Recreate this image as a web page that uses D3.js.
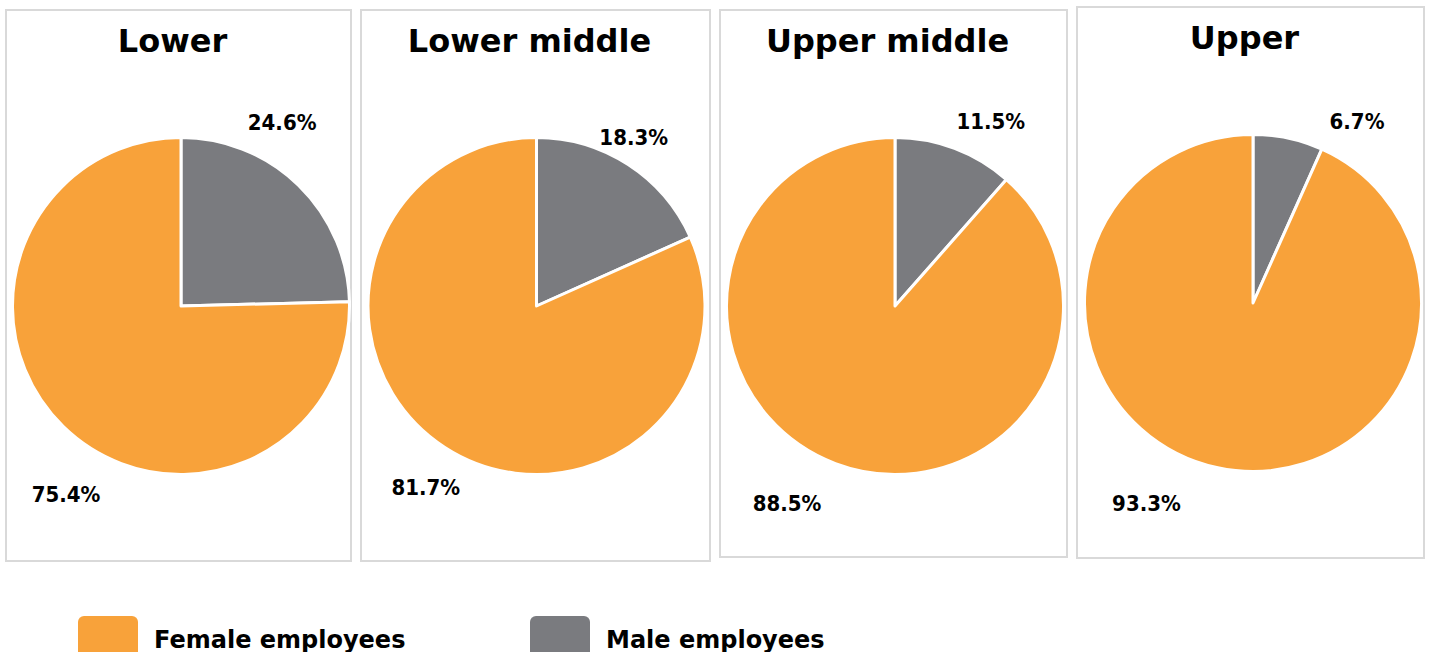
<!DOCTYPE html>
<html>
<head>
<meta charset="utf-8">
<script src="https://cdn.jsdelivr.net/npm/d3@7"></script>
<style>
  body { margin: 0; background: #fff; }
  svg { display: block; }
</style>
</head>
<body>
<div class="canvas"></div>
<script>
// data
const groups = ["Lower", "Lower middle", "Upper middle", "Upper"];
const series = ["Male employees", "Female employees"];
const maleShare = [24.6, 18.3, 11.5, 6.7];
const femaleShare = [75.4, 81.7, 88.5, 93.3];
const legendOrder = ["Female employees", "Male employees"];

const width = 1429, height = 652;

const color = d3.scaleOrdinal()
    .domain(series)
    .range(["#7a7b7f", "#f8a23a"]);

// panel frames (layout only)
const panels = [
    {x: 6, y: 10, w: 345, h: 551, cx: 181, cy: 306},
    {x: 361, y: 10, w: 349, h: 551, cx: 536.5, cy: 306},
    {x: 720, y: 10, w: 347, h: 547, cx: 895, cy: 306},
    {x: 1077, y: 7, w: 347, h: 551, cx: 1253, cy: 303}
];
const radius = 168.5;

// where Excel dropped the labels: [male, female] as angle (deg from top) / distance
const labelSpots = [
    [{ang: 28.8, dist: 210}, {ang: 211.5, dist: 220}],
    [{ang: 29.9, dist: 195}, {ang: 211.5, dist: 212}],
    [{ang: 27.4, dist: 208}, {ang: 208.7, dist: 225}],
    [{ang: 29.7, dist: 210}, {ang: 208, dist: 227}]
];

const svg = d3.select(".canvas").append("svg")
    .attr("width", width)
    .attr("height", height);

const pie = d3.pie().sort(null).value(d => d.value);
const arc = d3.arc().innerRadius(0).outerRadius(radius);

groups.forEach((name, i) => {
    const p = panels[i];
    const data = [
        {key: series[0], value: maleShare[i]},
        {key: series[1], value: femaleShare[i]}
    ];

    svg.append("rect")
        .attr("x", p.x).attr("y", p.y)
        .attr("width", p.w).attr("height", p.h)
        .attr("fill", "#fff")
        .attr("stroke", "#d9d9d9")
        .attr("stroke-width", 2);

    svg.append("text")
        .attr("x", p.x + p.w / 2 - 6)
        .attr("y", p.y + 42)
        .attr("text-anchor", "middle")
        .style("font-family", "'DejaVu Sans', Verdana, sans-serif")
        .style("font-weight", "bold")
        .style("font-size", "32px")
        .text(name);

    const g = svg.append("g").attr("transform", `translate(${p.cx}, ${p.cy})`);

    g.selectAll("path")
        .data(pie(data))
        .enter()
        .append("path")
        .attr("d", arc)
        .attr("fill", d => color(d.data.key))
        .attr("stroke", "#fff")
        .attr("stroke-width", 3)
        .attr("stroke-linejoin", "round");

    const spots = labelSpots[i];
    g.selectAll("text.lbl")
        .data(pie(data))
        .enter()
        .append("text")
        .attr("class", "lbl")
        .attr("x", (d, j) => Math.sin(spots[j].ang * Math.PI / 180) * spots[j].dist)
        .attr("y", (d, j) => -Math.cos(spots[j].ang * Math.PI / 180) * spots[j].dist)
        .attr("dy", "0.36em")
        .attr("text-anchor", "middle")
        .style("font-family", "'DejaVu Sans Condensed', 'DejaVu Sans', sans-serif")
        .style("font-weight", "bold")
        .style("font-size", "22px")
        .text(d => d.data.value.toFixed(1) + "%");
});

// legend
const legend = svg.append("g").attr("transform", "translate(78, 616)");
const legendX = d3.scalePoint().domain(legendOrder).range([0, 452]);

const item = legend.selectAll("g.item")
    .data(legendOrder)
    .enter()
    .append("g")
    .attr("class", "item")
    .attr("transform", d => `translate(${legendX(d)}, 0)`);

item.append("rect")
    .attr("width", 60)
    .attr("height", 48)
    .attr("rx", 6)
    .attr("fill", d => color(d));

item.append("text")
    .attr("x", 76)
    .attr("y", 32)
    .style("font-family", "'DejaVu Sans', Verdana, sans-serif")
    .style("font-weight", "bold")
    .style("font-size", "24px")
    .text(d => d);
</script>
</body>
</html>
